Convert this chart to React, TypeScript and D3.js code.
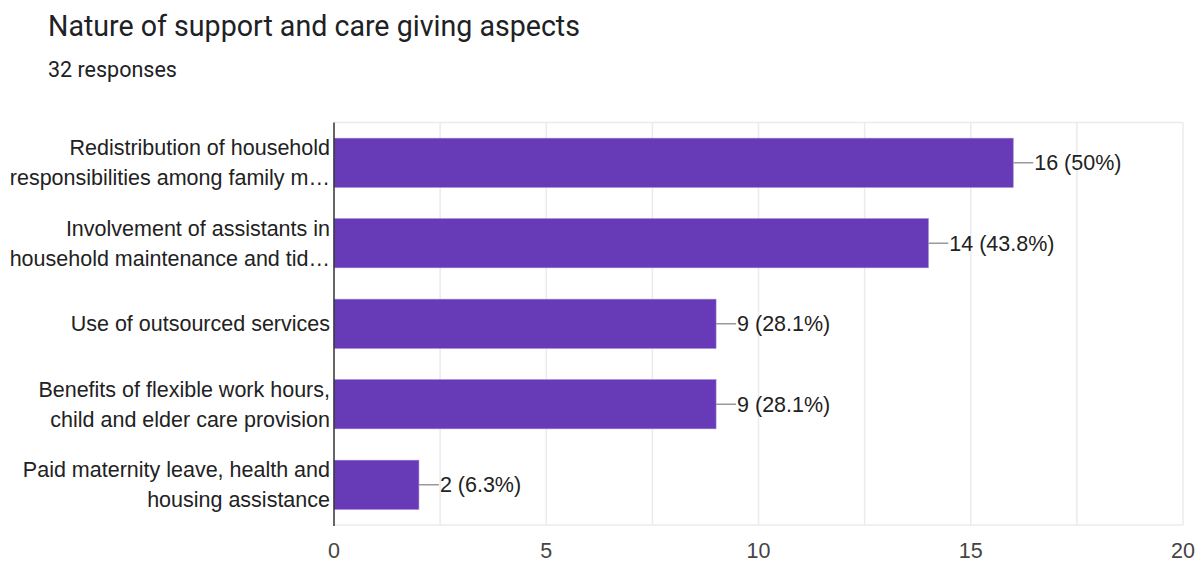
import React from "react";
import * as d3 from "d3";

const categories: string[][] = [
  ["Redistribution of household", "responsibilities among family m…"],
  ["Involvement of assistants in", "household maintenance and tid…"],
  ["Use of outsourced services"],
  ["Benefits of flexible work hours,", "child and elder care provision"],
  ["Paid maternity leave, health and", "housing assistance"],
];
const counts: number[] = [16, 14, 9, 9, 2];
const valueLabels: string[] = ["16 (50%)", "14 (43.8%)", "9 (28.1%)", "9 (28.1%)", "2 (6.3%)"];
const xTicks: number[] = [0, 5, 10, 15, 20];
const gridTicks: number[] = [2.5, 5, 7.5, 10, 12.5, 15, 17.5, 20];

const W = 1197;
const H = 562;
const left = 334;
const right = 1183;
const top = 122.5;
const bottom = 525;

export default function App() {
  const x = d3.scaleLinear().domain([0, 20]).range([left, right]);
  const y = d3
    .scaleBand<number>()
    .domain(d3.range(categories.length))
    .range([top, bottom])
    .paddingInner(0.39)
    .paddingOuter(0.195);
  const labelFont = "Arial, 'Liberation Sans', sans-serif";
  const fs = 21.5;
  return (
    <svg
      width={W}
      height={H}
      style={{ position: "absolute", left: 0, top: 0, background: "#fff" }}
    >
      <text x={48} y={36} fontFamily="Roboto, sans-serif" fontSize={28.6} fill="#202124">
        Nature of support and care giving aspects
      </text>
      <text x={48} y={77} fontFamily="Roboto, sans-serif" fontSize={21.5} fill="#202124">
        32 responses
      </text>
      {/* grid */}
      <line x1={left} x2={right} y1={top} y2={top} stroke="#ebebeb" strokeWidth={1.5} />
      <line x1={left} x2={right} y1={bottom} y2={bottom} stroke="#ebebeb" strokeWidth={1.5} />
      {gridTicks.map((t) => (
        <line
          key={t}
          x1={x(t)}
          x2={x(t)}
          y1={top}
          y2={bottom}
          stroke="#ebebeb"
          strokeWidth={1.5}
        />
      ))}
      {/* bars */}
      {counts.map((v, i) => {
        const by = y(i)!;
        const bh = y.bandwidth();
        const cy = by + bh / 2;
        const x1 = x(v);
        return (
          <g key={i}>
            <rect x={x(0)} y={by} width={x1 - x(0)} height={bh} fill="#673ab7" stroke="#9575cd" strokeWidth={0.6} />
            <line x1={x1} x2={x1 + 20} y1={cy} y2={cy} stroke="#999" strokeWidth={1.5} />
            <text
              x={x1 + 21}
              y={cy}
              dy="0.36em"
              fontFamily={labelFont}
              fontSize={fs}
              fill="#222"
            >
              {valueLabels[i]}
            </text>
          </g>
        );
      })}
      {/* category labels */}
      {categories.map((lines, i) => {
        const cy = y(i)! + y.bandwidth() / 2;
        const lh = 30;
        const start = cy - ((lines.length - 1) * lh) / 2;
        return (
          <text
            key={i}
            textAnchor="end"
            fontFamily={labelFont}
            fontSize={fs}
            fill="#222"
          >
            {lines.map((l, j) => (
              <tspan key={j} x={left - 4} y={start + j * lh} dy="0.36em">
                {l}
              </tspan>
            ))}
          </text>
        );
      })}
      {/* axis */}
      <line x1={left} x2={left} y1={top} y2={bottom + 1} stroke="#333" strokeWidth={1.5} />
      {xTicks.map((t) => (
        <text
          key={t}
          x={x(t)}
          y={550.5}
          dy="0.36em"
          textAnchor="middle"
          fontFamily={labelFont}
          fontSize={fs}
          fill="#444"
        >
          {t}
        </text>
      ))}
    </svg>
  );
}
